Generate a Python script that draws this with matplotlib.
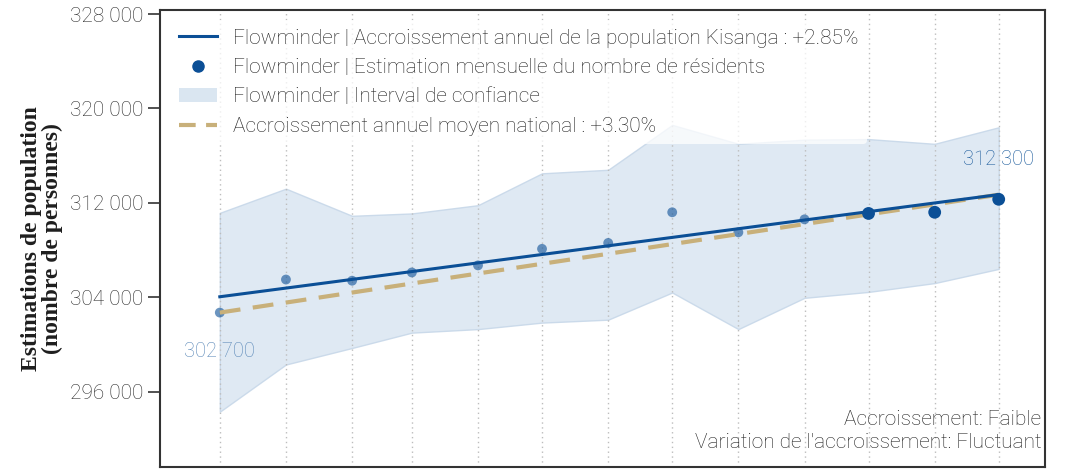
import numpy as np
import pandas as pd
import matplotlib.pyplot as plt
from matplotlib.lines import Line2D
from matplotlib.patches import Patch
from matplotlib.ticker import FuncFormatter

# --- Monthly estimates (residents) ---
months = pd.date_range('2022-12-01', periods=13, freq='MS')
residents = [302700, 305500, 305400, 306100, 306700, 308100, 308600,
             311200, 309500, 310600, 311100, 311200, 312300]
ci_upper = [311150, 313200, 310900, 311100, 311800, 314500, 314800,
            318600, 317000, 317350, 317400, 317000, 318400]
ci_lower = [294300, 298300, 299700, 301000, 301300, 301850, 302100,
            304400, 301300, 303950, 304450, 305200, 306400]

# --- Growth lines (start / end) ---
trend_local = [304040, 312700]      # +2.85% / year
trend_national = [302700, 312690]   # +3.30% / year

BLUE = '#0b4f96'
BAND = '#dae6f1'
TAN = '#c8b07a'
TXT = '#1e1e1e'

plt.rcParams['font.family'] = ['Roboto', 'DejaVu Sans']
plt.rcParams['font.weight'] = 'light'

fig = plt.figure(figsize=(10.67, 4.70), dpi=100)
ax = fig.add_axes([0.150, 0.006, 0.829, 0.973])

ax.fill_between(months, ci_lower, ci_upper, color=BAND, alpha=0.85,
                edgecolor='#c5d6e8', linewidth=1, zorder=1)
ax.plot([months[0], months[-1]], trend_national, color=TAN, lw=3,
        dashes=(5, 3), zorder=3)
ax.plot([months[0], months[-1]], trend_local, color=BLUE, lw=2.2, zorder=4)

# older months faded, last three highlighted
ax.scatter(months[:10], residents[:10], s=50, color=BLUE, alpha=0.6,
           edgecolors='none', zorder=2)
ax.scatter(months[10:], residents[10:], s=85, color=BLUE,
           edgecolors='none', zorder=5)

ax.annotate(f"{residents[0]:,}".replace(',', ' '), (months[0], residents[0]),
            xytext=(0, -28), textcoords='offset points', ha='center',
            va='center', fontsize=14.5, color='#5a88b8')
ax.annotate(f"{residents[-1]:,}".replace(',', ' '), (months[-1], residents[-1]),
            xytext=(0, 29), textcoords='offset points', ha='center',
            va='center', fontsize=14.5, color='#1b5b9c')

ax.set_xlim(months[0] - pd.Timedelta(days=28), months[-1] + pd.Timedelta(days=21.5))
ax.set_ylim(289600, 328350)
ax.set_xticks(months)
ax.set_xticklabels([])
ax.tick_params(axis='x', length=0)
ax.grid(axis='x', color='#bdbdbd', linestyle=(0, (1, 2.5)), linewidth=1)

ax.set_yticks([296000, 304000, 312000, 320000, 328000])
ax.yaxis.set_major_formatter(FuncFormatter(lambda v, p: f"{int(v):,}".replace(',', ' ')))
ax.tick_params(axis='y', length=9, width=1.2, color='#333333',
               labelsize=15, labelcolor='#2a2a2a', pad=3)
for s in ax.spines.values():
    s.set_color('#333333')
    s.set_linewidth(1.5)

ax.set_ylabel("Estimations de population\n(nombre de personnes)",
              family='Liberation Serif', fontweight='bold', fontsize=17,
              color=TXT, labelpad=5, linespacing=1.0)

handles = [
    Line2D([], [], color=BLUE, lw=2.2),
    Line2D([], [], color=BLUE, marker='o', ls='none', markersize=8),
    Patch(facecolor=BAND, edgecolor='none'),
    Line2D([], [], color=TAN, lw=3, dashes=(4, 2.5)),
]
labels = [
    "Flowminder | Accroissement annuel de la population Kisanga : +2.85%",
    "Flowminder | Estimation mensuelle du nombre de résidents",
    "Flowminder | Interval de confiance",
    "Accroissement annuel moyen national : +3.30%",
]
leg = ax.legend(handles, labels, loc='upper left', bbox_to_anchor=(0.005, 0.991),
                fontsize=15, frameon=True, framealpha=0.75, edgecolor='none',
                facecolor='white', labelcolor=TXT, handlelength=1.8,
                handletextpad=0.8, labelspacing=0.5, borderpad=0.4,
                borderaxespad=0.3)
leg.set_zorder(6)

ax.text(0.996, 0.105, "Accroissement: Faible", transform=ax.transAxes,
        ha='right', va='center', fontsize=15, color=TXT)
ax.text(0.996, 0.055, "Variation de l'accroissement: Fluctuant",
        transform=ax.transAxes, ha='right', va='center', fontsize=15, color=TXT)

fig.savefig('out.png', dpi=100)
